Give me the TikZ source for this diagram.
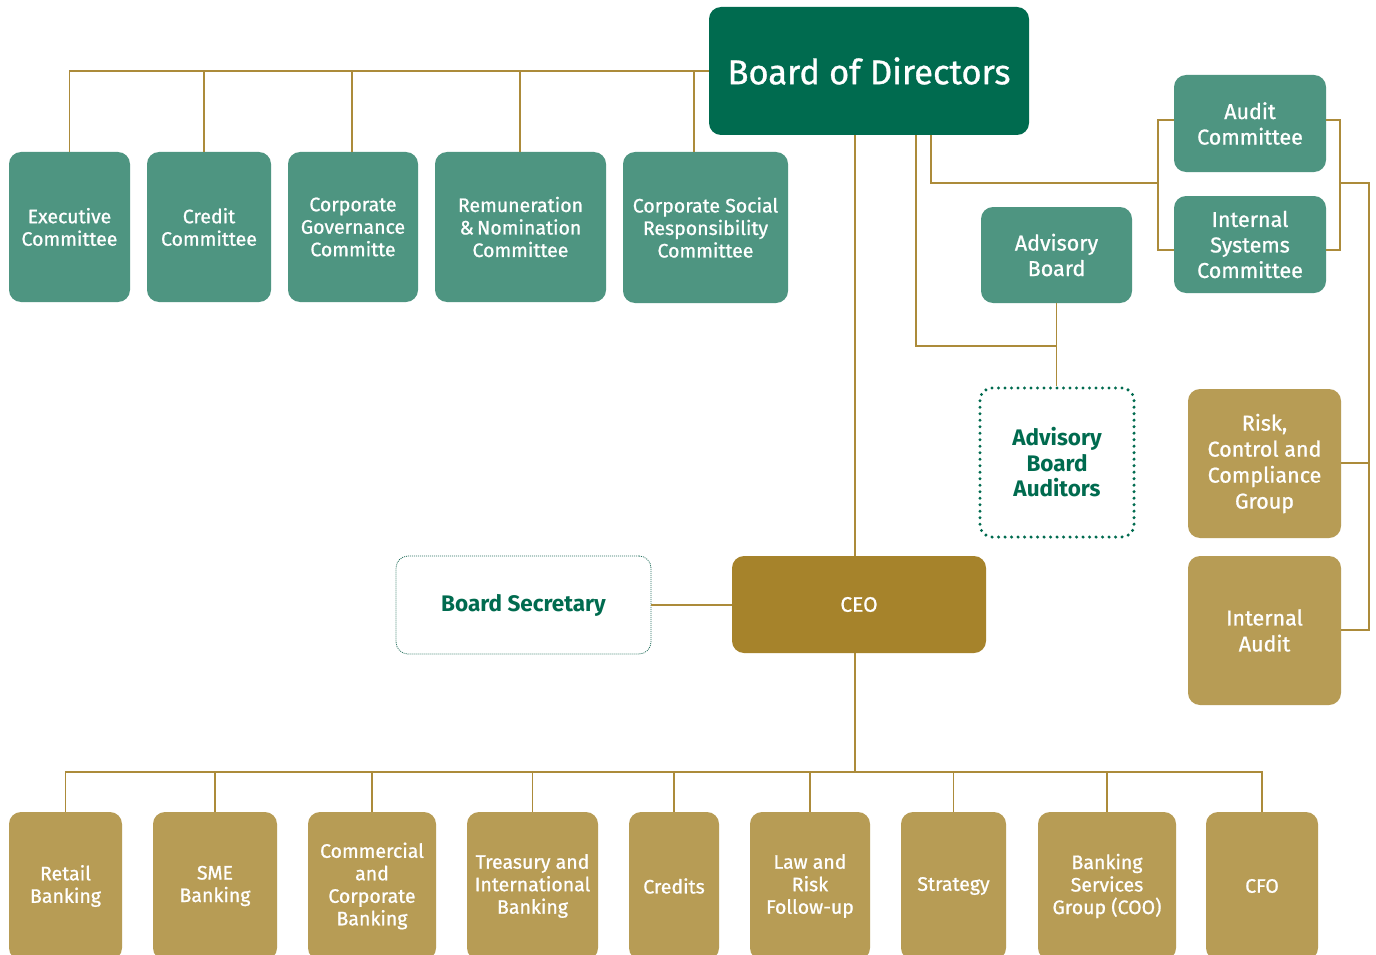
\documentclass[tikz,border=0pt]{standalone}
\usepackage{fontspec}
\setmainfont{Fira Sans}
\newfontfamily\medfont{Fira Sans}[FakeBold=0.9]
\definecolor{bodg}{HTML}{006B4F}
\definecolor{cmtg}{HTML}{4E9581}
\definecolor{goldb}{HTML}{B79C55}
\definecolor{ceog}{HTML}{A6832B}
\definecolor{linec}{HTML}{AC8B3A}
\newcommand\bx[7]{\node[#2, minimum width={#5-#3}, minimum height={#6-#4}] (#1) at ({(#3+#5)/2},{(#4+#6)/2}) {#7};}
\begin{document}
\begin{tikzpicture}[x=1pt,y=-1pt,
 base/.style={rounded corners=12pt, align=center, inner sep=0pt, text=white},
 bodbox/.style={base, fill=bodg, font=\medfont\fontsize{34.5}{40}\selectfont},
 cbox/.style={base, fill=cmtg, font=\medfont\fontsize{19.5}{22.5}\selectfont},
 rbox/.style={base, fill=cmtg, font=\medfont\fontsize{21.5}{25.5}\selectfont},
 gbox/.style={base, fill=goldb, font=\medfont\fontsize{19.5}{22.5}\selectfont},
 rgbox/.style={base, fill=goldb, font=\medfont\fontsize{21.5}{26}\selectfont},
 ceobox/.style={base, fill=ceog, font=\medfont\fontsize{21}{25}\selectfont},
 audbox/.style={base, text=bodg, draw=bodg, line width=3.4pt, dash pattern=on 0pt off 6.5pt, line cap=round, font=\fontsize{22.5}{25.5}\selectfont\bfseries},
 secbox/.style={base, text=bodg, draw=bodg!70!gray, line width=0.8pt, dash pattern=on 1pt off 1pt, font=\fontsize{22.5}{26}\selectfont\bfseries},
 conn/.style={draw=linec, line width=1.5pt}]
\useasboundingbox (0,0) rectangle (1376,955);
\clip (0,0) rectangle (1376,955);
\fill[white] (0,0) rectangle (1376,955);
% boxes
\bx{bod}{bodbox}{709}{7}{1029}{135}{Board of Directors}
\bx{exec}{cbox}{9}{152}{130}{302}{Executive\\Committee}
\bx{cred}{cbox}{147}{152}{271}{302}{Credit\\Committee}
\bx{cgov}{cbox}{288}{152}{418}{302}{Corporate\\Governance\\Committe}
\bx{remn}{cbox}{435}{152}{606}{302}{Remuneration\\\&\,Nomination\\Committee}
\bx{csr}{cbox}{623}{152}{788}{303}{Corporate Social\\Responsibility\\Committee}
\bx{advb}{rbox}{981}{207}{1132}{303}{Advisory\\Board}
\bx{advaud}{audbox}{980}{388}{1134}{537}{Advisory\\Board\\Auditors}
\bx{audit}{rbox}{1174}{75}{1326}{172}{Audit\\Committee}
\bx{isys}{rbox}{1174}{196}{1326}{293}{Internal\\Systems\\Committee}
\bx{risk}{rgbox}{1188}{389}{1341}{538}{Risk,\\Control and\\Compliance\\Group}
\bx{iaud}{rgbox}{1188}{556}{1341}{705}{Internal\\Audit}
\bx{bsec}{secbox}{396}{556}{651}{654}{Board Secretary}
\bx{ceo}{ceobox}{732}{556}{986}{653}{CEO}
\bx{retail}{gbox}{9}{812}{122}{960}{Retail\\Banking}
\bx{sme}{gbox}{153}{812}{277}{960}{SME\\Banking}
\bx{ccb}{gbox}{308}{812}{436}{960}{Commercial\\and\\Corporate\\Banking}
\bx{treas}{gbox}{467}{812}{598}{960}{Treasury and\\International\\Banking}
\bx{credits}{gbox}{629}{812}{719}{960}{Credits}
\bx{law}{gbox}{750}{812}{870}{960}{Law and\\Risk\\Follow-up}
\bx{strat}{gbox}{901}{812}{1006}{960}{Strategy}
\bx{bsg}{gbox}{1038}{812}{1176}{960}{Banking\\Services\\Group (COO)}
\bx{cfo}{gbox}{1206}{812}{1318}{960}{CFO}
% top committees bus
\draw[conn] (bod.west) -| (exec.north);
\draw[conn] (204,0 |- cred.north) -- (204,0 |- bod.west);
\draw[conn] (352,0 |- cgov.north) -- (352,0 |- bod.west);
\draw[conn] (520,0 |- remn.north) -- (520,0 |- bod.west);
\draw[conn] (694,0 |- csr.north) -- (694,0 |- bod.west);
% board to CEO
\draw[conn] (855,0 |- bod.south) -- (855,0 |- ceo.north);
% advisory
\draw[conn] (916,0 |- bod.south) |- (advb.south |- 0,346);
\draw[conn] (advb.south) -- (advb.south |- advaud.north);
% audit / internal systems
\coordinate (lj) at (1158,183);
\coordinate (rj) at (1340,183);
\draw[conn] (931,0 |- bod.south) |- (lj);
\draw[conn] (audit.west |- 0,120) -| (lj) |- (isys.west |- 0,250);
\draw[conn] (audit.east |- 0,120) -| (rj) |- (isys.east |- 0,250);
\draw[conn] (rj) -| (1369,630) -- (iaud.east |- 0,630);
\draw[conn] (1369,463) -- (risk.east |- 0,463);
% secretary
\draw[conn] (bsec.east) -- (ceo.west |- bsec.east);
% bottom bus
\coordinate (bus) at (855,772);
\draw[conn] (855,0 |- ceo.south) -- (bus);
\draw[conn] (retail.north) |- (bus) -| (cfo.north);
\foreach \n in {sme,ccb,treas,credits,law,strat,bsg}
  \draw[conn] (\n.north) -- (\n.north |- bus);
\end{tikzpicture}
\end{document}
